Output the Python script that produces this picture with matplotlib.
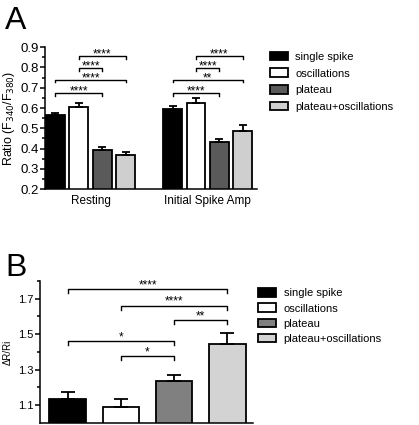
import numpy as np
import matplotlib.pyplot as plt
from matplotlib.ticker import MultipleLocator
from matplotlib.patches import Patch

plt.rcParams['font.family'] = ['Liberation Sans', 'DejaVu Sans']

groups = ['single spike', 'oscillations', 'plateau', 'plateau+oscillations']
conditions = ['Resting', 'Initial Spike Amp']

# panel A: ratio F340/F380, mean and SEM
a_mean = [[0.566, 0.607, 0.392, 0.366],
          [0.593, 0.623, 0.430, 0.487]]
a_err = [[0.011, 0.019, 0.015, 0.019],
         [0.018, 0.025, 0.018, 0.028]]
a_colors = ['black', 'white', '#5a5a5a', '#cfcfcf']

# comparisons in A: (i, j, height, label) per condition
a_sig = [[(1, 3, 0.856, '****'), (1, 2, 0.797, '****'),
          (0, 3, 0.739, '****'), (0, 2, 0.674, '****')],
         [(1, 3, 0.856, '****'), (1, 2, 0.797, '****'),
          (0, 3, 0.739, '**'), (0, 2, 0.674, '****')]]

# panel B: dR/Ri
b_mean = [1.137, 1.091, 1.236, 1.444]
b_err = [0.036, 0.045, 0.036, 0.062]
b_colors = ['black', 'white', '#808080', '#d3d3d3']
b_sig = [(0, 3, 1.752, '****'), (1, 3, 1.659, '****'), (2, 3, 1.577, '**'),
         (0, 2, 1.459, '*'), (1, 2, 1.375, '*')]

fig = plt.figure(figsize=(4.19, 4.25), dpi=100)


def bracket(ax, x1, x2, y, text, drop, up, fs=8.5):
    ax.plot([x1, x1, x2, x2], [y - drop, y, y, y - drop], color='black', lw=1.0,
            clip_on=False)
    ax.annotate(text, xy=((x1 + x2) / 2, y), xytext=(0, up),
                textcoords='offset points', ha='center', va='baseline',
                fontsize=fs, annotation_clip=False)


def style(ax):
    for s in ['top', 'right']:
        ax.spines[s].set_visible(False)
    ax.spines['left'].set_linewidth(1.1)
    ax.spines['bottom'].set_linewidth(1.1)
    ax.tick_params(axis='x', length=0)
    ax.tick_params(axis='y', which='major', length=3.5, width=1.1, pad=1)
    ax.tick_params(axis='y', which='minor', length=2, width=1.1)


# ---- A ----
axA = fig.add_axes([0.107, 0.555, 0.506, 0.334])
offs = [0, 5]
for c in range(2):
    x = np.arange(4) + offs[c]
    axA.bar(x, a_mean[c], width=0.8, color=a_colors, edgecolor='black', lw=1.3,
            yerr=[np.zeros(4), a_err[c]], capsize=3,
            error_kw=dict(elinewidth=1.3, capthick=1.3, ecolor='black'), zorder=2)
    for i, j, h, t in a_sig[c]:
        bracket(axA, x[i], x[j], h, t, 0.013, -1.0)
axA.set_xlim(-0.45, 8.6)
axA.set_ylim(0.2, 0.9)
axA.yaxis.set_major_locator(MultipleLocator(0.1))
axA.yaxis.set_minor_locator(MultipleLocator(0.05))
axA.set_xticks([1.5, 6.5])
axA.set_xticklabels(conditions, fontsize=8.5)
axA.tick_params(axis='x', pad=4)
axA.set_ylabel('Ratio (F$_{340}$/F$_{380}$)', fontsize=9, labelpad=2)
style(axA)
axA.tick_params(axis='y', labelsize=9.5)

handles = [Patch(facecolor=col, edgecolor='black', lw=1.3) for col in a_colors]
fig.legend(handles, groups, loc='upper left', bbox_to_anchor=(0.62, 0.902),
           frameon=False, fontsize=8, handlelength=1.6, handleheight=0.8,
           handletextpad=0.7, labelspacing=0.6)

fig.text(0.012, 0.985, 'A', fontsize=23, va='top', ha='left')
fig.text(0.012, 0.405, 'B', fontsize=23, va='top', ha='left')

# ---- B ----
axB = fig.add_axes([0.0955, 0.005, 0.508, 0.334])
xb = np.arange(4)
axB.bar(xb, b_mean, width=0.69, color=b_colors, edgecolor='black', lw=1.3,
        yerr=[np.zeros(4), b_err], capsize=5,
        error_kw=dict(elinewidth=1.3, capthick=1.3, ecolor='black'), zorder=2)
for i, j, h, t in b_sig:
    bracket(axB, xb[i], xb[j], h, t, 0.022, 1.0)
axB.set_xlim(-0.52, 3.48)
axB.set_ylim(1.0, 1.8)
axB.set_yticks([1.1, 1.3, 1.5, 1.7])
axB.set_yticks([1.2, 1.4, 1.6, 1.8], minor=True)
axB.set_xticks([])
axB.set_ylabel('ΔR/Ri', fontsize=7, labelpad=4)
style(axB)
axB.tick_params(axis='y', labelsize=8)

handlesB = [Patch(facecolor=col, edgecolor='black', lw=1.3) for col in b_colors]
fig.legend(handlesB, groups, loc='upper left', bbox_to_anchor=(0.592, 0.345),
           frameon=False, fontsize=8, handlelength=1.6, handleheight=0.8,
           handletextpad=0.7, labelspacing=0.45)

fig.savefig('out.png', dpi=100)
